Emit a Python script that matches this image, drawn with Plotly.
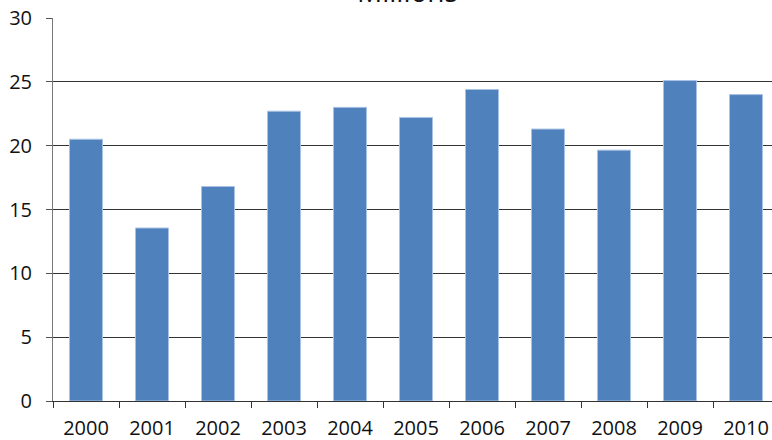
import plotly.graph_objects as go

years = ["2000", "2001", "2002", "2003", "2004", "2005", "2006", "2007", "2008", "2009", "2010"]
values = [20.5, 13.55, 16.8, 22.7, 23.0, 22.2, 24.4, 21.3, 19.65, 25.1, 24.0]
y_ticks = [0, 5, 10, 15, 20, 25, 30]
title_text = "Millions"

fig = go.Figure()
fig.add_trace(go.Bar(
    x=years, y=values, width=0.5,
    marker=dict(color="#4F81BD", line=dict(color="#A9C2E2", width=1)),
))

W, H = 772, 440
ml, mr, mt, mb = 53, 0, 18, 39
fig.update_layout(
    width=W, height=H,
    margin=dict(l=ml, r=mr, t=mt, b=mb, pad=0),
    plot_bgcolor="white", paper_bgcolor="white",
    showlegend=False,
    font=dict(family="Open Sans", size=20, color="#111111"),
    bargap=0.5,
)
fig.update_xaxes(
    type="category", range=[-0.5, 10.394],
    showline=True, linecolor="#333333", linewidth=1,
    ticks="outside", tickson="boundaries", ticklen=6, tickcolor="#333333",
    showgrid=False, ticklabelstandoff=9,
)
fig.update_yaxes(
    range=[0, 30], tickvals=y_ticks,
    showline=True, linecolor="#777777", linewidth=1,
    ticks="outside", ticklen=6, tickcolor="#555555",
    showgrid=True, gridcolor="#333333", gridwidth=1,
    zeroline=False, ticklabelstandoff=10,
)
fig.add_annotation(
    text=title_text, xref="paper", yref="paper",
    x=(407 - ml) / (W - ml - mr), y=1 + (mt - 5) / (H - mt - mb),
    xanchor="center", yanchor="bottom", showarrow=False,
    font=dict(family="Open Sans", size=28, color="#111111"),
    yshift=-7,
)
fig.write_html("out.html")
